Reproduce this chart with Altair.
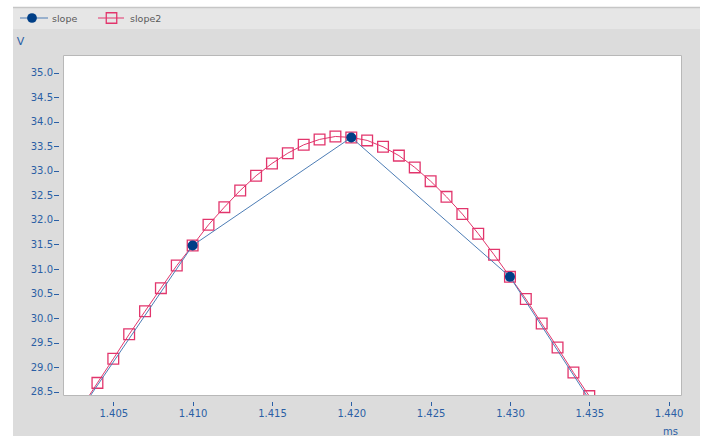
import altair as alt
import pandas as pd

# ---- data ----
t_slope = [1.400, 1.410, 1.420, 1.430, 1.440]
v_slope = [26.73, 31.48, 33.68, 30.84, 25.84]

t_slope2 = [1.403, 1.404, 1.405, 1.406, 1.407, 1.408, 1.409, 1.410, 1.411, 1.412,
            1.413, 1.414, 1.415, 1.416, 1.417, 1.418, 1.419, 1.420, 1.421, 1.422,
            1.423, 1.424, 1.425, 1.426, 1.427, 1.428, 1.429, 1.430, 1.431, 1.432,
            1.433, 1.434, 1.435, 1.436]
v_slope2 = [28.18, 28.68, 29.17, 29.67, 30.14, 30.61, 31.07, 31.48, 31.90, 32.26,
            32.60, 32.90, 33.15, 33.36, 33.53, 33.64, 33.70, 33.68, 33.62, 33.49,
            33.31, 33.07, 32.79, 32.47, 32.12, 31.72, 31.29, 30.84, 30.39, 29.89,
            29.40, 28.89, 28.41, 27.92]

x_ticks = [1.405, 1.410, 1.415, 1.420, 1.425, 1.430, 1.435, 1.440]
y_ticks = [28.5, 29.0, 29.5, 30.0, 30.5, 31.0, 31.5, 32.0, 32.5, 33.0, 33.5, 34.0, 34.5, 35.0]
series_names = ["slope", "slope2"]

BLUE_DOT = "#003f87"
BLUE_LINE = "#4d7db5"
PINK = "#e2356c"
AXIS_BLUE = "#2b5fa5"
FONT = "DejaVu Sans"

df1 = pd.DataFrame({"t": t_slope, "v": v_slope})
df2 = pd.DataFrame({"t": t_slope2, "v": v_slope2})
dummy = pd.DataFrame({"a": [0]})

xs = alt.Scale(domain=[1.40183, 1.44078], nice=False, zero=False)
ys = alt.Scale(domain=[28.433, 35.36], nice=False, zero=False)

x_enc = alt.X("t:Q", scale=xs, axis=alt.Axis(
    values=x_ticks, tickCount=len(x_ticks), format=".3f", title="ms", grid=False, domain=False,
    offset=6.5, tickSize=4, tickColor=AXIS_BLUE, labelColor=AXIS_BLUE,
    labelFont=FONT, labelFontSize=10, labelPadding=3, labelOverlap=False,
    titleColor=AXIS_BLUE, titleFont=FONT, titleFontSize=10, titleFontWeight="normal",
    titleX=607, titleY=33, titleAlign="center", titleBaseline="alphabetic", zindex=1))
y_enc = alt.Y("v:Q", scale=ys, axis=alt.Axis(
    values=y_ticks, tickCount=len(y_ticks), format=".1f", title="V", grid=False, domain=False,
    offset=4.5, tickSize=5, tickColor=AXIS_BLUE, labelColor=AXIS_BLUE,
    labelFont=FONT, labelFontSize=10, labelPadding=1, labelOverlap=False,
    titleColor=AXIS_BLUE, titleFont=FONT, titleFontSize=11, titleFontWeight="normal",
    titleAngle=0, titleX=-38.5, titleY=-14, titleAlign="center", titleBaseline="middle",
    zindex=1))

# ---- decoration (frame of the application window) ----
white_left = alt.Chart(dummy).mark_rect(color="white").encode(
    x=alt.value(-63), x2=alt.value(-50), y=alt.value(-55), y2=alt.value(381))
white_top = alt.Chart(dummy).mark_rect(color="white").encode(
    x=alt.value(-63), x2=alt.value(641), y=alt.value(-55), y2=alt.value(-48))
white_right = alt.Chart(dummy).mark_rect(color="white").encode(
    x=alt.value(637), x2=alt.value(641), y=alt.value(-55), y2=alt.value(381))
strip = alt.Chart(dummy).mark_rect(color="#e6e6e6").encode(
    x=alt.value(-50), x2=alt.value(637), y=alt.value(-48), y2=alt.value(-26))
strip_line = alt.Chart(dummy).mark_rule(color="#c6c6c6", strokeWidth=1.5).encode(
    x=alt.value(-50), x2=alt.value(637), y=alt.value(-47.5))

# ---- legend ----
leg_line1 = alt.Chart(dummy).mark_rule(color=BLUE_LINE, strokeWidth=1).encode(
    x=alt.value(-43), x2=alt.value(-15), y=alt.value(-37))
leg_pt1 = alt.Chart(dummy).mark_point(shape="circle", filled=True, size=95,
                                      color=BLUE_DOT, opacity=1).encode(
    x=alt.value(-31), y=alt.value(-37))
leg_line2 = alt.Chart(dummy).mark_rule(color=PINK, strokeWidth=1).encode(
    x=alt.value(35), x2=alt.value(61), y=alt.value(-37))
leg_pt2 = alt.Chart(dummy).mark_point(shape="square", filled=False, size=110,
                                      color=PINK, strokeWidth=1.3, opacity=1).encode(
    x=alt.value(48.5), y=alt.value(-37))
leg_txt1 = alt.Chart(dummy).mark_text(align="left", baseline="middle", font=FONT,
                                      fontSize=9.5, color="#5a5a5a",
                                      text=series_names[0]).encode(
    x=alt.value(-11), y=alt.value(-36))
leg_txt2 = alt.Chart(dummy).mark_text(align="left", baseline="middle", font=FONT,
                                      fontSize=9.5, color="#5a5a5a",
                                      text=series_names[1]).encode(
    x=alt.value(67), y=alt.value(-36))

# ---- data layers ----
line2 = alt.Chart(df2).mark_line(color=PINK, strokeWidth=1, clip=True).encode(x=x_enc, y=y_enc)
pts2 = alt.Chart(df2).mark_point(shape="square", filled=False, size=115, color=PINK,
                                 strokeWidth=1.3, opacity=1, clip=True).encode(x="t:Q", y="v:Q")
line1 = alt.Chart(df1).mark_line(color=BLUE_LINE, strokeWidth=1, clip=True).encode(x="t:Q", y="v:Q")
pts1 = alt.Chart(df1).mark_point(shape="circle", filled=True, size=100, color=BLUE_DOT,
                                 opacity=1, clip=True).encode(x="t:Q", y="v:Q")

chart = alt.layer(
    white_left, white_top, white_right, strip, strip_line,
    line2, pts2, line1, pts1,
    leg_line1, leg_pt1, leg_line2, leg_pt2, leg_txt1, leg_txt2,
).properties(
    width=618, height=340,
    autosize=alt.AutoSizeParams(type="none"),
    padding={"left": 63, "top": 55, "right": 23, "bottom": 41},
    background="#dcdcdc",
).configure(
    font=FONT
).configure_view(
    fill="white", stroke="#b8b8b8", strokeWidth=1
)

chart.save("out.html", embed_options={"renderer": "svg", "actions": False})
